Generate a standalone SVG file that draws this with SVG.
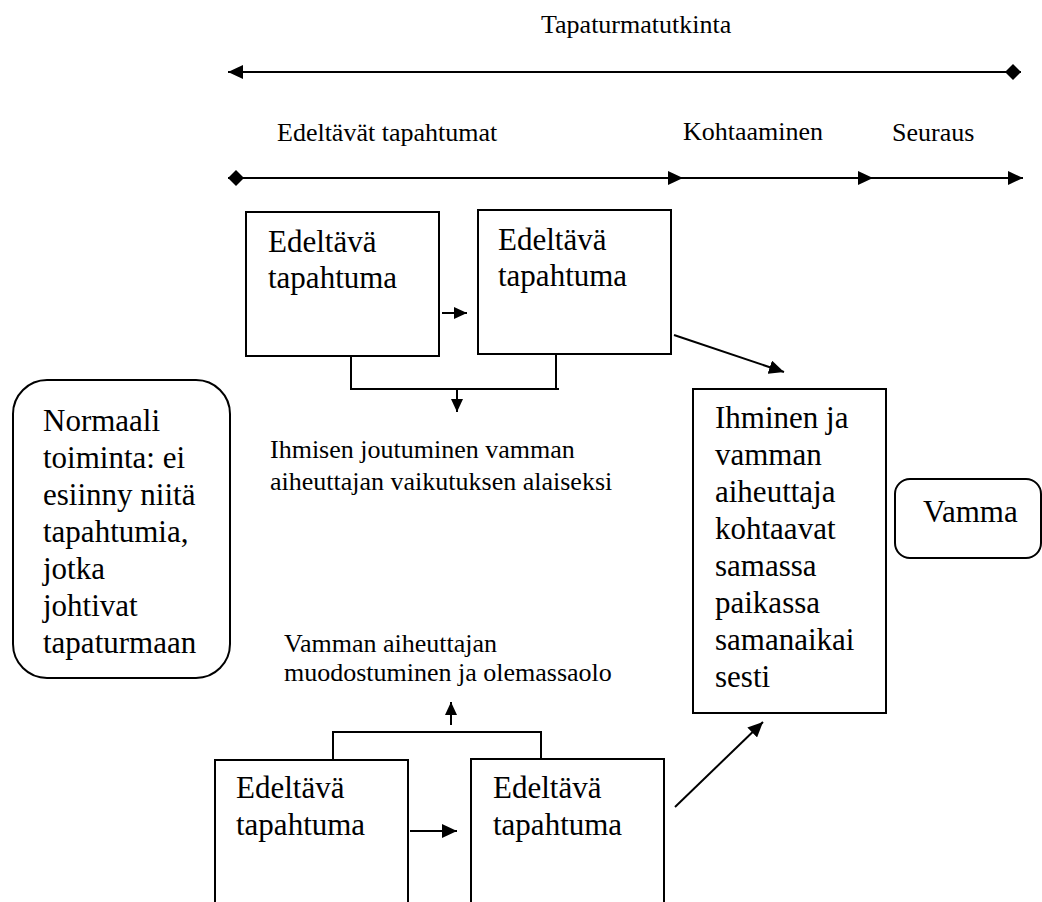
<svg xmlns="http://www.w3.org/2000/svg" width="1042" height="902" viewBox="0 0 1042 902">
  <defs>
    <style>
      .box { fill: #ffffff; stroke: #000000; stroke-width: 2; }
      .ln { fill: none; stroke: #000000; stroke-width: 2; }
      .big { font-family: "Liberation Serif", "Times New Roman", serif; font-size: 31px; fill: #000000; }
      .small { font-family: "Liberation Serif", "Times New Roman", serif; font-size: 26px; fill: #000000; }
    </style>
    <marker id="arrow" markerUnits="userSpaceOnUse" markerWidth="15" markerHeight="14" refX="15" refY="7" orient="auto-start-reverse">
      <path d="M0,0 L15,7 L0,14 z" fill="#000000"/>
    </marker>
    <marker id="arrowSm" markerUnits="userSpaceOnUse" markerWidth="13" markerHeight="12" refX="13" refY="6" orient="auto">
      <path d="M0,0 L13,6 L0,12 z" fill="#000000"/>
    </marker>
    <marker id="diamondEnd" markerUnits="userSpaceOnUse" markerWidth="16" markerHeight="16" refX="16" refY="8" orient="auto">
      <path d="M0,8 L8,0 L16,8 L8,16 z" fill="#000000"/>
    </marker>
    <marker id="diamondStart" markerUnits="userSpaceOnUse" markerWidth="16" markerHeight="16" refX="0" refY="8" orient="auto">
      <path d="M0,8 L8,0 L16,8 L8,16 z" fill="#000000"/>
    </marker>
  </defs>

  <rect width="1042" height="902" fill="#ffffff"/>

  <!-- timeline headings -->
  <g id="timeline-labels">
    <text class="small" x="541" y="33">Tapaturmatutkinta</text>
    <text class="small" x="277" y="141">Edeltävät tapahtumat</text>
    <text class="small" x="683" y="140">Kohtaaminen</text>
    <text class="small" x="892" y="141">Seuraus</text>
  </g>

  <!-- nodes -->
  <g id="node-normaali">
    <rect class="box" x="13" y="380" width="217" height="298" rx="34" ry="34"/>
    <text class="big" x="43" y="431">Normaali</text>
    <text class="big" x="43" y="468">toiminta: ei</text>
    <text class="big" x="43" y="505">esiinny niitä</text>
    <text class="big" x="43" y="542">tapahtumia,</text>
    <text class="big" x="43" y="579">jotka</text>
    <text class="big" x="43" y="616">johtivat</text>
    <text class="big" x="43" y="653">tapaturmaan</text>
  </g>

  <g id="node-edeltava-1">
    <rect class="box" x="246" y="212" width="193" height="144"/>
    <text class="big" x="268" y="252">Edeltävä</text>
    <text class="big" x="268" y="288">tapahtuma</text>
  </g>

  <g id="node-edeltava-2">
    <rect class="box" x="478" y="210" width="193" height="144"/>
    <text class="big" x="498" y="250">Edeltävä</text>
    <text class="big" x="498" y="286">tapahtuma</text>
  </g>

  <g id="node-edeltava-3">
    <rect class="box" x="215" y="760" width="193" height="160"/>
    <text class="big" x="236" y="798">Edeltävä</text>
    <text class="big" x="236" y="835">tapahtuma</text>
  </g>

  <g id="node-edeltava-4">
    <rect class="box" x="471" y="759" width="193" height="161"/>
    <text class="big" x="493" y="798">Edeltävä</text>
    <text class="big" x="493" y="835">tapahtuma</text>
  </g>

  <g id="node-joutuminen">
    <text class="small" x="270" y="458">Ihmisen joutuminen vamman</text>
    <text class="small" x="270" y="490">aiheuttajan vaikutuksen alaiseksi</text>
  </g>

  <g id="node-muodostuminen">
    <text class="small" x="284" y="652">Vamman aiheuttajan</text>
    <text class="small" x="284" y="681">muodostuminen ja olemassaolo</text>
  </g>

  <g id="node-kohtaaminen">
    <rect class="box" x="693" y="389" width="193" height="324"/>
    <text class="big" x="715" y="428">Ihminen ja</text>
    <text class="big" x="715" y="465">vamman</text>
    <text class="big" x="715" y="502">aiheuttaja</text>
    <text class="big" x="715" y="539">kohtaavat</text>
    <text class="big" x="715" y="576">samassa</text>
    <text class="big" x="715" y="613">paikassa</text>
    <text class="big" x="715" y="650">samanaikai</text>
    <text class="big" x="715" y="687">sesti</text>
  </g>

  <g id="node-vamma">
    <rect class="box" x="895" y="479" width="146" height="79" rx="15" ry="15"/>
    <text class="big" x="923" y="522">Vamma</text>
  </g>

  <!-- connectors -->
  <g id="connectors">
    <!-- investigation span -->
    <line class="ln" x1="228" y1="72" x2="1021" y2="72" marker-start="url(#arrow)" marker-end="url(#diamondEnd)"/>
    <!-- phase timeline -->
    <line class="ln" x1="228" y1="178" x2="683" y2="178" marker-start="url(#diamondStart)" marker-end="url(#arrow)"/>
    <line class="ln" x1="683" y1="178" x2="873" y2="178" marker-end="url(#arrow)"/>
    <line class="ln" x1="873" y1="178" x2="1023" y2="178" marker-end="url(#arrow)"/>

    <!-- upper chain -->
    <line class="ln" x1="442" y1="313" x2="467" y2="313" marker-end="url(#arrowSm)"/>
    <path class="ln" d="M351,356 V389 H559 M556,354 V389"/>
    <line class="ln" x1="457" y1="389" x2="457" y2="412" marker-end="url(#arrowSm)"/>
    <line class="ln" x1="674" y1="335" x2="784" y2="372" marker-end="url(#arrow)"/>

    <!-- lower chain -->
    <line class="ln" x1="410" y1="831" x2="457" y2="831" marker-end="url(#arrow)"/>
    <path class="ln" d="M333,760 V732 H541 V759"/>
    <line class="ln" x1="451" y1="725" x2="451" y2="702" marker-end="url(#arrowSm)"/>
    <line class="ln" x1="675" y1="807" x2="763" y2="722" marker-end="url(#arrow)"/>
  </g>
</svg>
